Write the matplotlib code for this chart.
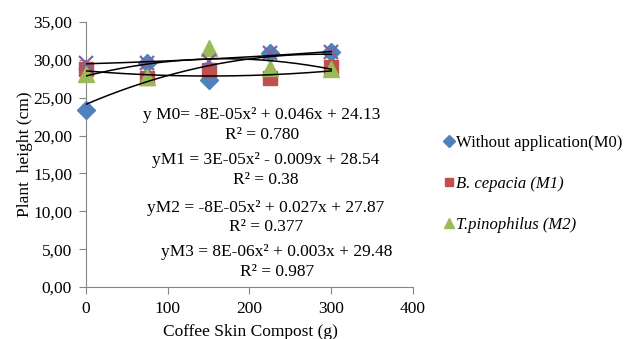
import numpy as np
import matplotlib
matplotlib.use("Agg")
import matplotlib.pyplot as plt

plt.rcParams['font.family'] = ['Liberation Serif', 'DejaVu Serif']

compost = [0, 75, 150, 225, 300]
m0 = [23.4, 29.55, 27.3, 30.9, 31.1]
m1 = [28.75, 27.6, 28.7, 27.6, 29.0]
m2 = [28.1, 27.8, 31.6, 28.9, 28.75]
m3 = [29.56, 29.65, 29.8, 30.9, 31.1]

# trendline coefficients (a, b, c) for a*x^2 + b*x + c, as printed on chart
coef_m0 = [-8e-05, 0.046, 24.13]
coef_m1 = [3e-05, -0.009, 28.54]
coef_m2 = [-8e-05, 0.027, 27.87]
coef_m3 = [8e-06, 0.003, 29.48]

labels = ["Without application(M0)", "B. cepacia (M1)", "T.pinophilus (M2)"]
eq_texts = [
    ("y M0= -8E-05x\u00b2 + 0.046x + 24.13", "R\u00b2 = 0.780"),
    ("yM1 = 3E-05x\u00b2 - 0.009x + 28.54", "R\u00b2 = 0.38"),
    ("yM2 = -8E-05x\u00b2 + 0.027x + 27.87", "R\u00b2 = 0.377"),
    ("yM3 = 8E-06x\u00b2 + 0.003x + 29.48", "R\u00b2 = 0.987"),
]

FS = 12.5
fig = plt.figure(figsize=(6.29, 3.39), dpi=100)
W, H = 629, 339
ax = fig.add_axes([86 / W, 1 - 287 / H, (413 - 86) / W, (287 - 22) / H])

blue, red, green, purple = "#4F81BD", "#C0504D", "#9BBB59", "#8064A2"

h0, = ax.plot(compost, m0, linestyle='none', marker='D', ms=9, color=blue, label=labels[0], zorder=3, clip_on=False)
h1, = ax.plot(compost, m1, linestyle='none', marker='s', ms=9.5, color=red, label=labels[1], zorder=3, clip_on=False)
h2, = ax.plot(compost, m2, linestyle='none', marker='^', ms=11, color=green, label=labels[2], zorder=3, clip_on=False)
ax.plot(compost, m3, linestyle='none', marker='x', ms=10, mew=1.6, color=purple, zorder=4, clip_on=False)

xs = np.linspace(0, 300, 200)
for c in (coef_m0, coef_m1, coef_m2, coef_m3):
    ax.plot(xs, np.polyval(c, xs), color='black', lw=1.1, zorder=5)

ax.set_xlim(0, 400)
ax.set_ylim(0, 35)
ax.set_xticks([0, 100, 200, 300, 400])
ax.set_yticks(np.arange(0, 36, 5))
ax.set_yticklabels([f"{v:.2f}".replace('.', ',') for v in np.arange(0, 36, 5)])
for s in ('top', 'right'):
    ax.spines[s].set_visible(False)
for s in ('left', 'bottom'):
    ax.spines[s].set_color('#868686')
    ax.spines[s].set_zorder(1)
ax.tick_params(axis='both', direction='out', length=5, color='#868686', labelsize=FS, pad=5)

fig.text(250 / W, 1 - 332 / H, "Coffee Skin Compost (g)", ha='center', va='center', fontsize=FS)
fig.text(25 / W, 1 - 154 / H, "Plant  height (cm)", ha='center', va='center', fontsize=FS, rotation=90)

positions = [(262, 115, 135), (266, 160, 180), (266, 208, 227), (277, 252, 272)]
for (eq, r2), (px, py1, py2) in zip(eq_texts, positions):
    fig.text(px / W, 1 - py1 / H, eq, ha='center', va='center', fontsize=FS)
    fig.text(px / W, 1 - py2 / H, r2, ha='center', va='center', fontsize=FS)

leg = fig.legend(handles=[h0, h1, h2], loc='upper left', bbox_to_anchor=(437 / W, 1 - 128 / H),
                 frameon=False, fontsize=12, handlelength=0.65, handletextpad=0.12,
                 labelspacing=1.5, borderaxespad=0, markerscale=0.65)
for t in leg.get_texts()[1:]:
    t.set_fontstyle('italic')

fig.savefig("out.png", dpi=100)
